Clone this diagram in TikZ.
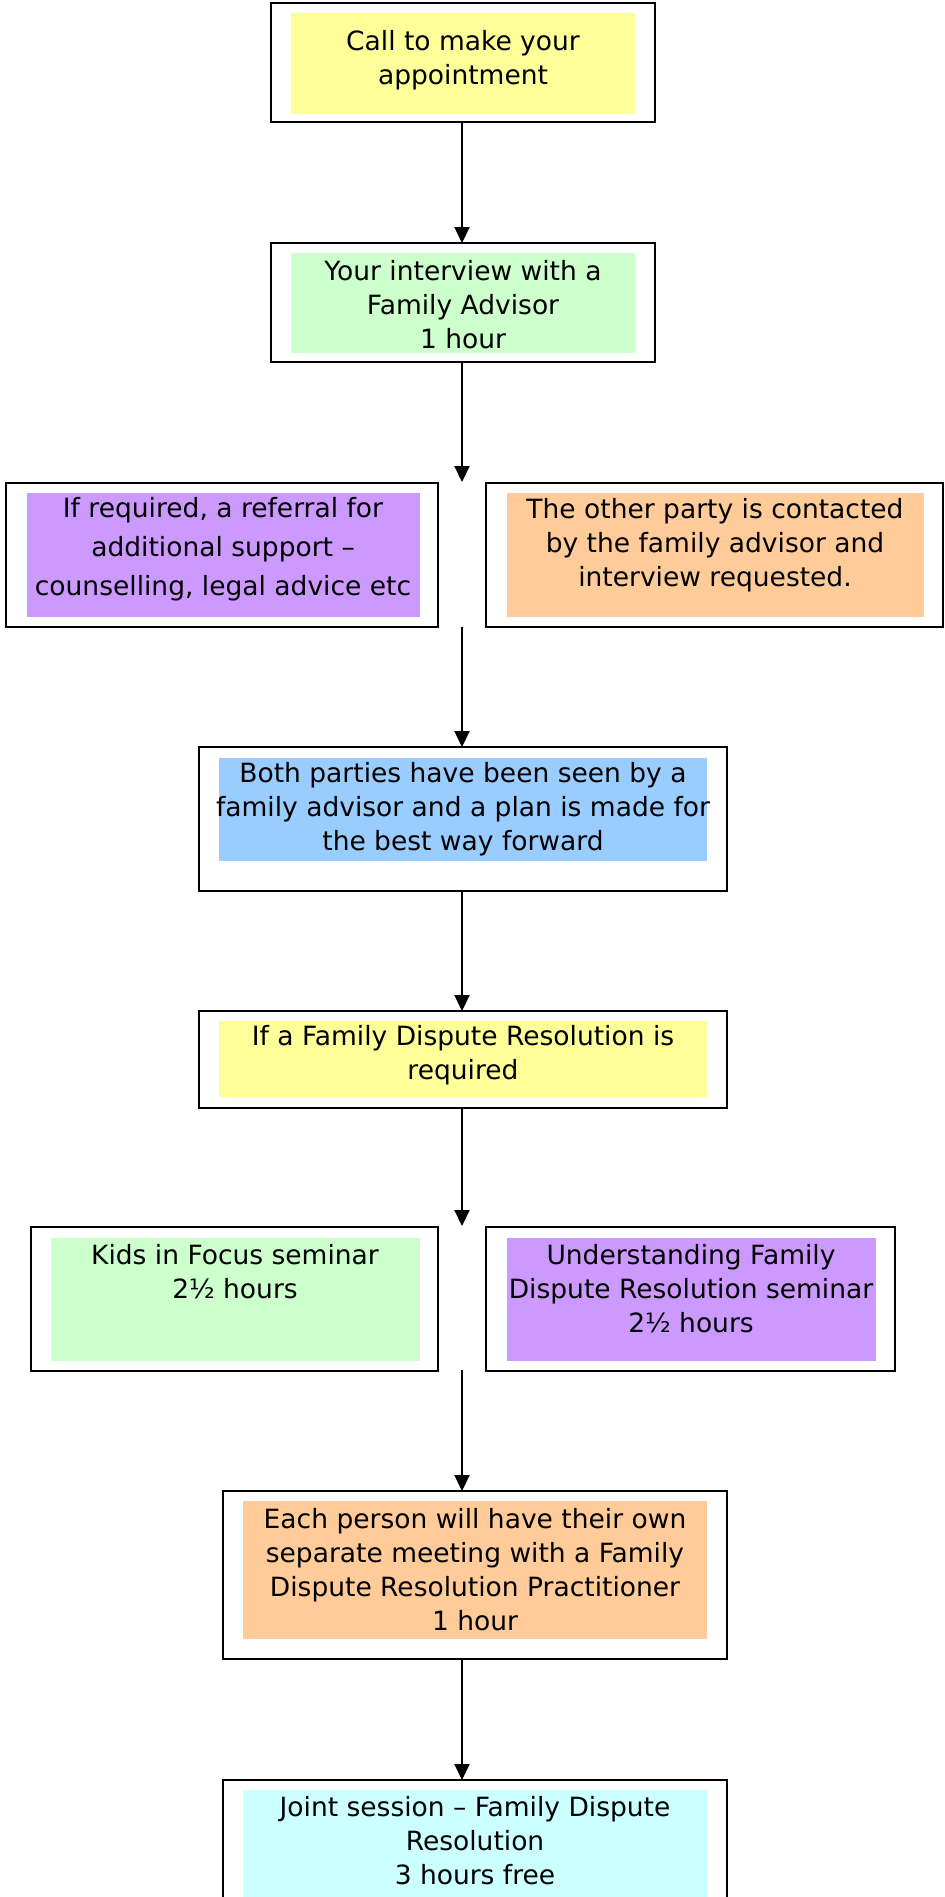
\documentclass[tikz,border=0pt]{standalone}
\usepackage{fontspec}
\setmainfont{DejaVu Sans}
\usetikzlibrary{arrows.meta}
\definecolor{cyel}{HTML}{FFFF99}
\definecolor{cgrn}{HTML}{CCFFCC}
\definecolor{cpur}{HTML}{CC99FF}
\definecolor{corg}{HTML}{FFCC99}
\definecolor{cblu}{HTML}{99CCFF}
\definecolor{ccya}{HTML}{CCFFFF}
\tikzset{
  outerbox/.style={draw=black, line width=1.1pt, fill=white, inner sep=0pt, outer sep=0pt},
  txt/.style={align=center, inner sep=0pt, font=\fontsize{13.25}{17}\selectfont},
  arr/.style={line width=1pt, -{Triangle[length=8pt,width=7.5pt]}}
}
\begin{document}
\begin{tikzpicture}[x=0.5pt, y=-0.5pt]
\clip (0,0) rectangle (944,1897);
\fill[white] (0,0) rectangle (944,1897);

% outer boxes
\node[outerbox, minimum width=192pt, minimum height=59.5pt] (b1) at (463,62.5) {};
\node[outerbox, minimum width=192pt, minimum height=59.5pt] (b2) at (463,302.5) {};
\node[outerbox, minimum width=216pt, minimum height=72pt] (ref) at (222,555) {};
\node[outerbox, minimum width=228.5pt, minimum height=72pt] (oth) at (714.5,555) {};
\node[outerbox, minimum width=264pt, minimum height=72pt] (both) at (463,819) {};
\node[outerbox, minimum width=264pt, minimum height=48.5pt] (fdr) at (463,1059.5) {};
\node[outerbox, minimum width=203.5pt, minimum height=72pt] (kids) at (234.5,1299) {};
\node[outerbox, minimum width=204.5pt, minimum height=72pt] (und) at (690.5,1299) {};
\node[outerbox, minimum width=252pt, minimum height=84pt] (each) at (475,1575) {};
\node[outerbox, minimum width=252pt, minimum height=75pt] (joint) at (475,1855) {};

% inner fills
\fill[cyel] (291,13) rectangle (635,114);
\fill[cgrn] (291,253) rectangle (635,353);
\fill[cpur] (27,493) rectangle (420,617);
\fill[corg] (507,493) rectangle (924,617);
\fill[cblu] (219,758) rectangle (707,861);
\fill[cyel] (219,1021) rectangle (707,1097);
\fill[cgrn] (51,1238) rectangle (420,1361);
\fill[cpur] (507,1238) rectangle (876,1361);
\fill[corg] (243,1501) rectangle (707,1639);
\fill[ccya] (243,1790) rectangle (708,1920);

% texts
\node[txt] (t1) at (463,60) {Call to make your\\appointment};
\node[txt] (t2) at (463,304.5) {Your interview with a\\Family Advisor\\1 hour};
\node[txt, font=\fontsize{13.25}{19.5}\selectfont] (tref) at (223,549) {If required, a referral for\\additional support –\\counselling, legal advice etc};
\node[txt] (toth) at (715,545) {The other party is contacted\\by the family advisor and\\interview requested.};
\node[txt] (tboth) at (463,809) {Both parties have been seen by a\\family advisor and a plan is made for\\the best way forward};
\node[txt] (tfdr) at (463,1055.5) {If a Family Dispute Resolution is\\required};
\node[txt] (tkids) at (235,1272) {Kids in Focus seminar\\2½ hours};
\node[txt] (tund) at (691,1289) {Understanding Family\\Dispute Resolution seminar\\2½ hours};
\node[txt] (teach) at (475,1570) {Each person will have their own\\separate meeting with a Family\\Dispute Resolution Practitioner\\1 hour};
\node[txt] (tjoint) at (475,1841) {Joint session – Family Dispute\\Resolution\\3 hours free};

% gap coordinates
\coordinate (g1) at (462,482);
\coordinate (g1b) at (462,627);
\coordinate (g2) at (462,1226);
\coordinate (g2b) at (462,1370);

% connectors
\draw[arr] (b1.south -| g1) -- (b2.north -| g1);
\draw[arr] (b2.south -| g1) -- (g1);
\draw[arr] (g1b) -- (both.north -| g1b);
\draw[arr] (both.south -| g1) -- (fdr.north -| g1);
\draw[arr] (fdr.south -| g2) -- (g2);
\draw[arr] (g2b) -- (each.north -| g2b);
\draw[arr] (each.south -| g2b) -- (joint.north -| g2b);
\end{tikzpicture}
\end{document}
